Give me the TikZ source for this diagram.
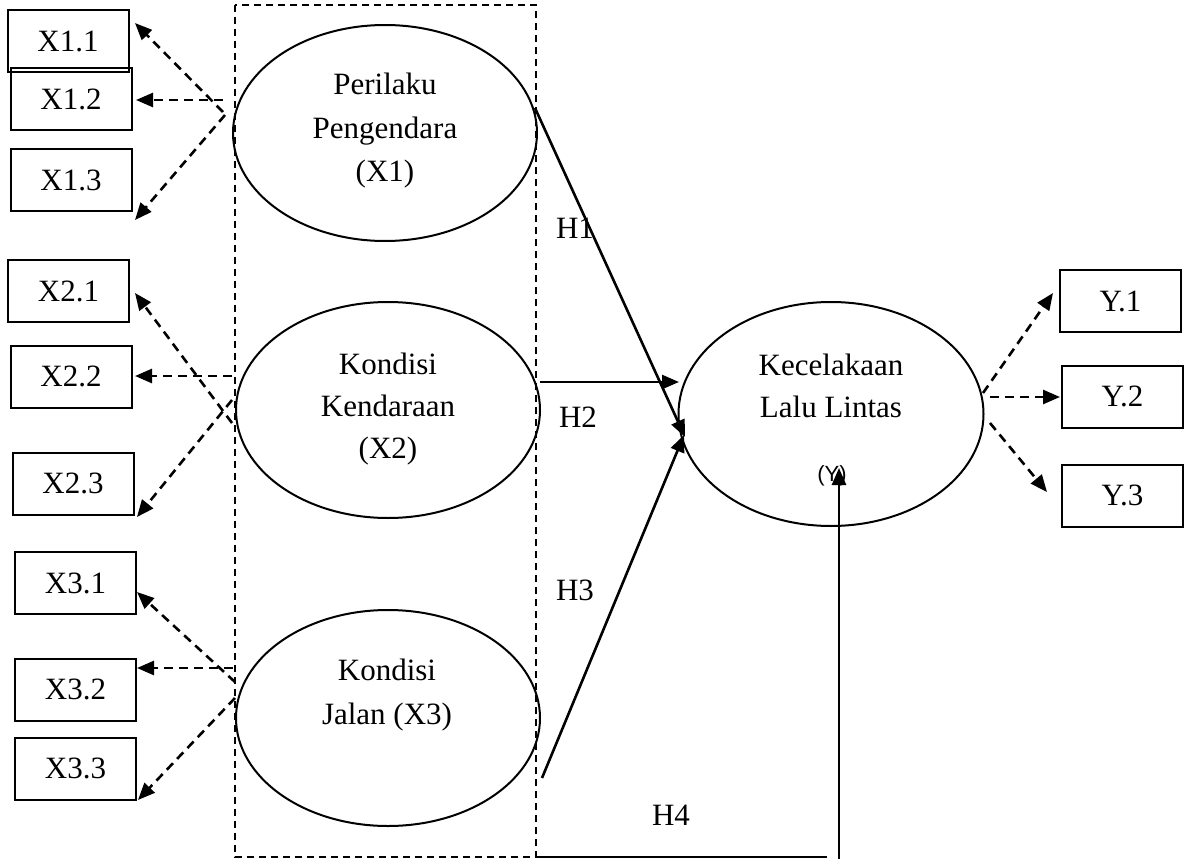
\documentclass[tikz,border=0pt]{standalone}
\usepackage{fontspec}
\setmainfont{Liberation Serif}
\newfontfamily\ysans{Liberation Sans}
\usetikzlibrary{arrows.meta,shapes.geometric}
\begin{document}
\begin{tikzpicture}[x=1pt,y=-1pt,
 every node/.style={font=\fontsize{31}{43}\selectfont, inner sep=0pt, outer sep=0pt},
 box/.style={draw, line width=2pt, minimum width=121pt, minimum height=62pt},
 lat/.style={draw, ellipse, line width=2pt, minimum width=304pt, minimum height=216pt},
 ln/.style={anchor=base},
 hl/.style={anchor=base west},
 dsh/.style={line width=2.6pt, dash pattern=on 9pt off 6pt, -{Triangle[length=17pt,width=14pt]}},
 sol/.style={line width=2.6pt, -{Triangle[length=17pt,width=14pt]}}
]
\useasboundingbox (0,0) rectangle (1184,859);

% dashed frame
\draw[line width=2pt, dash pattern=on 7pt off 5pt] (235,5) rectangle (536,857);

% latent variables
\node[lat] (e1) at (385,133) {};
\node[lat] (e2) at (388,410) {};
\node[lat] (e3) at (388,718) {};
\node[lat, minimum width=305pt, minimum height=224pt] (ey) at (831,414) {};

\node[ln] (e1a) at (385,95) {Perilaku};
\node[ln] (e1b) at (385,138) {Pengendara};
\node[ln] (e1c) at (385,181) {(X1)};
\node[ln] (e2a) at (388,374) {Kondisi};
\node[ln] (e2b) at (388,416) {Kendaraan};
\node[ln] (e2c) at (388,458) {(X2)};
\node[ln] (e3a) at (387,680) {Kondisi};
\node[ln] (e3b) at (387,724) {Jalan (X3)};
\node[ln] (eya) at (831,375) {Kecelakaan};
\node[ln] (eyb) at (831,417) {Lalu Lintas};
\node[ln, font=\ysans\fontsize{22}{24}\selectfont] (eyc) at (832,481) {(Y)};

% indicator boxes
\node[box] (x11) at (68,41) {X1.1};
\node[box] (x12) at (71,99) {X1.2};
\node[box] (x13) at (71,180) {X1.3};
\node[box] (x21) at (68.5,291) {X2.1};
\node[box] (x22) at (71,376.5) {X2.2};
\node[box] (x23) at (73,483.5) {X2.3};
\node[box] (x31) at (75.5,583) {X3.1};
\node[box] (x32) at (75.5,689.5) {X3.2};
\node[box] (x33) at (75.5,768.5) {X3.3};
\node[box] (y1) at (1120.5,301) {Y.1};
\node[box] (y2) at (1122.5,396.5) {Y.2};
\node[box] (y3) at (1122.5,495.5) {Y.3};

% connector coordinates
\coordinate (a11) at (223,112); \coordinate (t11) at (135,23);
\coordinate (a12) at (223,100); \coordinate (t12) at (136,100);
\coordinate (a13) at (225,115); \coordinate (t13) at (135,220);
\coordinate (a21) at (232,423); \coordinate (t21) at (135,293);
\coordinate (a22) at (232,376); \coordinate (t22) at (135,376);
\coordinate (a23) at (232,400); \coordinate (t23) at (137,517);
\coordinate (a31) at (235,682); \coordinate (t31) at (137,592);
\coordinate (a32) at (233,668); \coordinate (t32) at (137,668);
\coordinate (a33) at (235,698); \coordinate (t33) at (138,800);
\coordinate (ay1) at (983,393); \coordinate (ty1) at (1053,293);
\coordinate (ay2) at (990,397); \coordinate (ty2) at (1060,397);
\coordinate (ay3) at (990,423); \coordinate (ty3) at (1047,492);

\draw[dsh] (a11) -- (t11);
\draw[dsh] (a12) -- (t12);
\draw[dsh] (a13) -- (t13);
\draw[dsh] (a21) -- (t21);
\draw[dsh] (a22) -- (t22);
\draw[dsh] (a23) -- (t23);
\draw[dsh] (a31) -- (t31);
\draw[dsh] (a32) -- (t32);
\draw[dsh] (a33) -- (t33);
\draw[dsh] (ay1) -- (ty1);
\draw[dsh] (ay2) -- (ty2);
\draw[dsh] (ay3) -- (ty3);

% structural paths
\coordinate (h1s) at (535,108); \coordinate (h1e) at (685,437);
\coordinate (h2s) at (540,382); \coordinate (h2e) at (679,382);
\coordinate (h3s) at (542,778); \coordinate (h3e) at (684,435);
\coordinate (h4s) at (536,857); \coordinate (h4m) at (827,857);
\coordinate (h4b) at (839,859); \coordinate (h4e) at (839,468);
\draw[sol] (h1s) -- (h1e);
\draw[sol] (h2s) -- (h2e);
\draw[sol] (h3s) -- (h3e);
\draw[line width=2pt] (h4s) -- (h4m);
\draw[sol] (h4b) -- (h4e);

\node[hl] (lh1) at (556,238) {H1};
\node[hl] (lh2) at (559,427) {H2};
\node[hl] (lh3) at (556,600) {H3};
\node[hl] (lh4) at (652,825) {H4};
\end{tikzpicture}
\end{document}
